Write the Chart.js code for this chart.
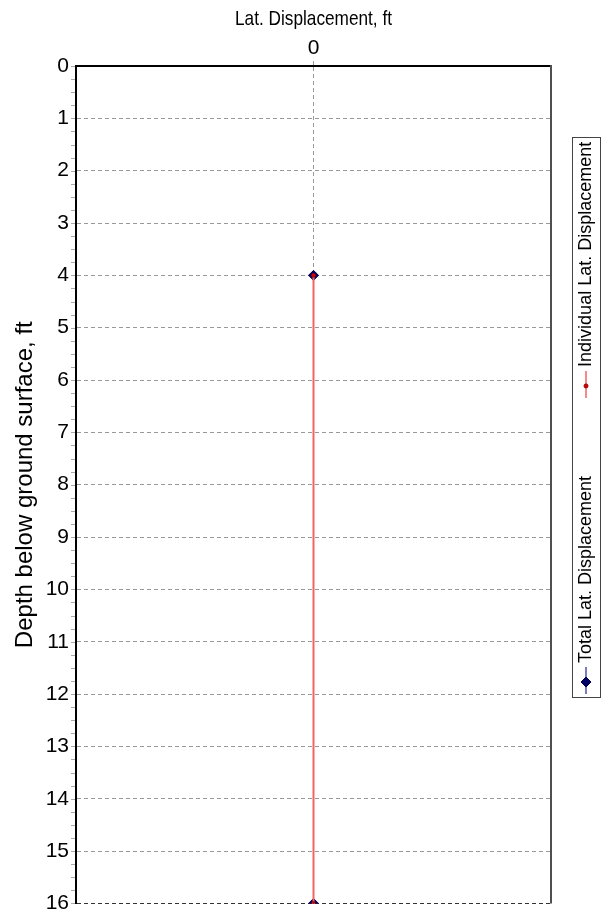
<!DOCTYPE html>
<html>
<head>
<meta charset="utf-8">
<script src="https://cdn.jsdelivr.net/npm/chart.js@4.4.1/dist/chart.umd.min.js"></script>
<style>
  html, body { margin: 0; padding: 0; background: #fff; }
  #wrap { width: 608px; height: 923px; }
</style>
</head>
<body>
<div id="wrap"><canvas id="dispChart"></canvas></div>
<script>
// depth (ft) of each point, and the displacement read at that depth
const depths = [4, 16];
const totalDisp = [0, 0];
const individualDisp = [0, 0];
const xTicks = [0];
const depthMin = 0;
const depthMax = 16;
const xTitle = 'Lat. Displacement, ft';
const yTitle = 'Depth below ground surface, ft';

const FONT = 'Liberation Sans, Arial, sans-serif';

function toPoints(xs) {
    return depths.map((d, i) => ({ x: xs[i], y: d }));
}

// plot frame: right edge + small minor ticks on the depth axis + condensed top title
const framePlugin = {
    id: 'frame',
    afterDraw(chart) {
        const { ctx, chartArea: a } = chart;
        const y = chart.scales.y;
        ctx.save();
        ctx.strokeStyle = '#aaa';
        ctx.lineWidth = 1;
        for (let v = depthMin; v <= depthMax; v += 0.25) {
            const py = Math.round(y.getPixelForValue(v)) + 0.5;
            ctx.beginPath();
            ctx.moveTo(a.left - 5, py);
            ctx.lineTo(a.left - 1, py);
            ctx.stroke();
        }
        ctx.strokeStyle = '#505050';
        ctx.lineWidth = 2;
        ctx.beginPath();
        ctx.moveTo(a.right, a.top - 1);
        ctx.lineTo(a.right, a.bottom);
        ctx.stroke();

        // the top title in the source is narrow and tall
        ctx.translate((a.left + a.right) / 2, 19);
        ctx.scale(0.82, 1);
        ctx.font = '21px ' + FONT;
        ctx.fillStyle = '#000';
        ctx.textAlign = 'center';
        ctx.textBaseline = 'middle';
        ctx.fillText(xTitle, 0, 0);
        ctx.restore();
    }
};

// vertical legend at the right, text reading bottom to top
const sideLegend = {
    id: 'sideLegend',
    afterDraw(chart) {
        const { ctx } = chart;
        const box = { left: 572, right: 600, top: 137, bottom: 697 };
        const cx = (box.left + box.right) / 2;
        ctx.save();
        ctx.strokeStyle = '#444';
        ctx.lineWidth = 1;
        ctx.strokeRect(box.left + 0.5, box.top + 0.5, box.right - box.left, box.bottom - box.top);
        ctx.font = '18px ' + FONT;
        ctx.textBaseline = 'middle';
        let pos = box.bottom - 3;
        chart.data.datasets.forEach(ds => {
            ctx.strokeStyle = ds.legendLine;
            ctx.lineWidth = 1.5;
            ctx.beginPath();
            ctx.moveTo(cx, pos);
            ctx.lineTo(cx, pos - 27);
            ctx.stroke();
            ctx.fillStyle = ds.pointBackgroundColor;
            ctx.strokeStyle = ds.pointBorderColor;
            ctx.lineWidth = 1;
            const my = pos - 12;
            const r = ds.pointRadius;
            ctx.beginPath();
            if (ds.pointStyle === 'rectRot') {
                ctx.moveTo(cx, my - r); ctx.lineTo(cx + r, my);
                ctx.lineTo(cx, my + r); ctx.lineTo(cx - r, my);
                ctx.closePath();
            } else {
                ctx.arc(cx, my, r, 0, Math.PI * 2);
            }
            ctx.fill();
            ctx.stroke();
            pos -= 31;
            ctx.save();
            ctx.translate(cx, pos);
            ctx.rotate(-Math.PI / 2);
            ctx.fillStyle = '#000';
            ctx.textAlign = 'left';
            ctx.fillText(ds.label, 0, 0);
            const w = ctx.measureText(ds.label).width;
            ctx.restore();
            pos -= w + 78;
        });
        ctx.restore();
    }
};

const gridDash = [4, 3];

new Chart(document.getElementById('dispChart'), {
    type: 'scatter',
    data: {
        datasets: [{
            label: 'Total Lat. Displacement',
            data: toPoints(totalDisp),
            showLine: true,
            borderColor: '#000066',
            borderWidth: 1,
            legendLine: '#5050a8',
            pointStyle: 'rectRot',
            pointRadius: 5,
            pointBackgroundColor: '#000066',
            pointBorderColor: '#000040',
            pointBorderWidth: 1,
            order: 2
        }, {
            label: 'Individual Lat. Displacement',
            data: toPoints(individualDisp),
            showLine: true,
            borderColor: '#f46262',
            borderWidth: 2,
            legendLine: '#f46262',
            pointStyle: 'circle',
            pointRadius: 2,
            pointBackgroundColor: '#d00000',
            pointBorderColor: '#a00000',
            pointBorderWidth: 0.5,
            order: 1
        }]
    },
    options: {
        responsive: true,
        maintainAspectRatio: false,
        animation: false,
        layout: {
            padding: { left: 0, top: 0, right: 57, bottom: 15 }
        },
        plugins: {
            legend: { display: false },
            tooltip: { enabled: false }
        },
        scales: {
            x: {
                type: 'linear',
                position: 'top',
                min: -1,
                max: 1,
                afterBuildTicks: scale => {
                    scale.ticks = xTicks.map(v => ({ value: v }));
                },
                afterFit: scale => { scale.height = 66; },
                grid: {
                    color: '#999',
                    lineWidth: 1,
                    drawTicks: true,
                    tickLength: 5,
                    tickColor: '#999',
                    tickBorderDash: gridDash
                },
                border: { display: true, color: '#000', width: 2, dash: gridDash },
                ticks: {
                    color: '#000',
                    padding: 0,
                    font: { family: FONT, size: 21 }
                },
                title: { display: false }
            },
            y: {
                type: 'linear',
                reverse: true,
                min: depthMin,
                max: depthMax,
                afterFit: scale => { scale.width = 76; },
                grid: {
                    color: c => (c.tick && c.tick.value === depthMax ? '#333' : '#999'),
                    lineWidth: 1,
                    drawTicks: false
                },
                border: { display: true, color: '#000', width: 2, dash: gridDash },
                ticks: {
                    stepSize: 1,
                    color: '#000',
                    padding: 7,
                    font: { family: FONT, size: 21 }
                },
                title: {
                    display: true,
                    text: yTitle,
                    color: '#000',
                    padding: { top: 11, bottom: 0 },
                    font: { family: FONT, size: 24 }
                }
            }
        }
    },
    plugins: [framePlugin, sideLegend]
});
</script>
</body>
</html>
